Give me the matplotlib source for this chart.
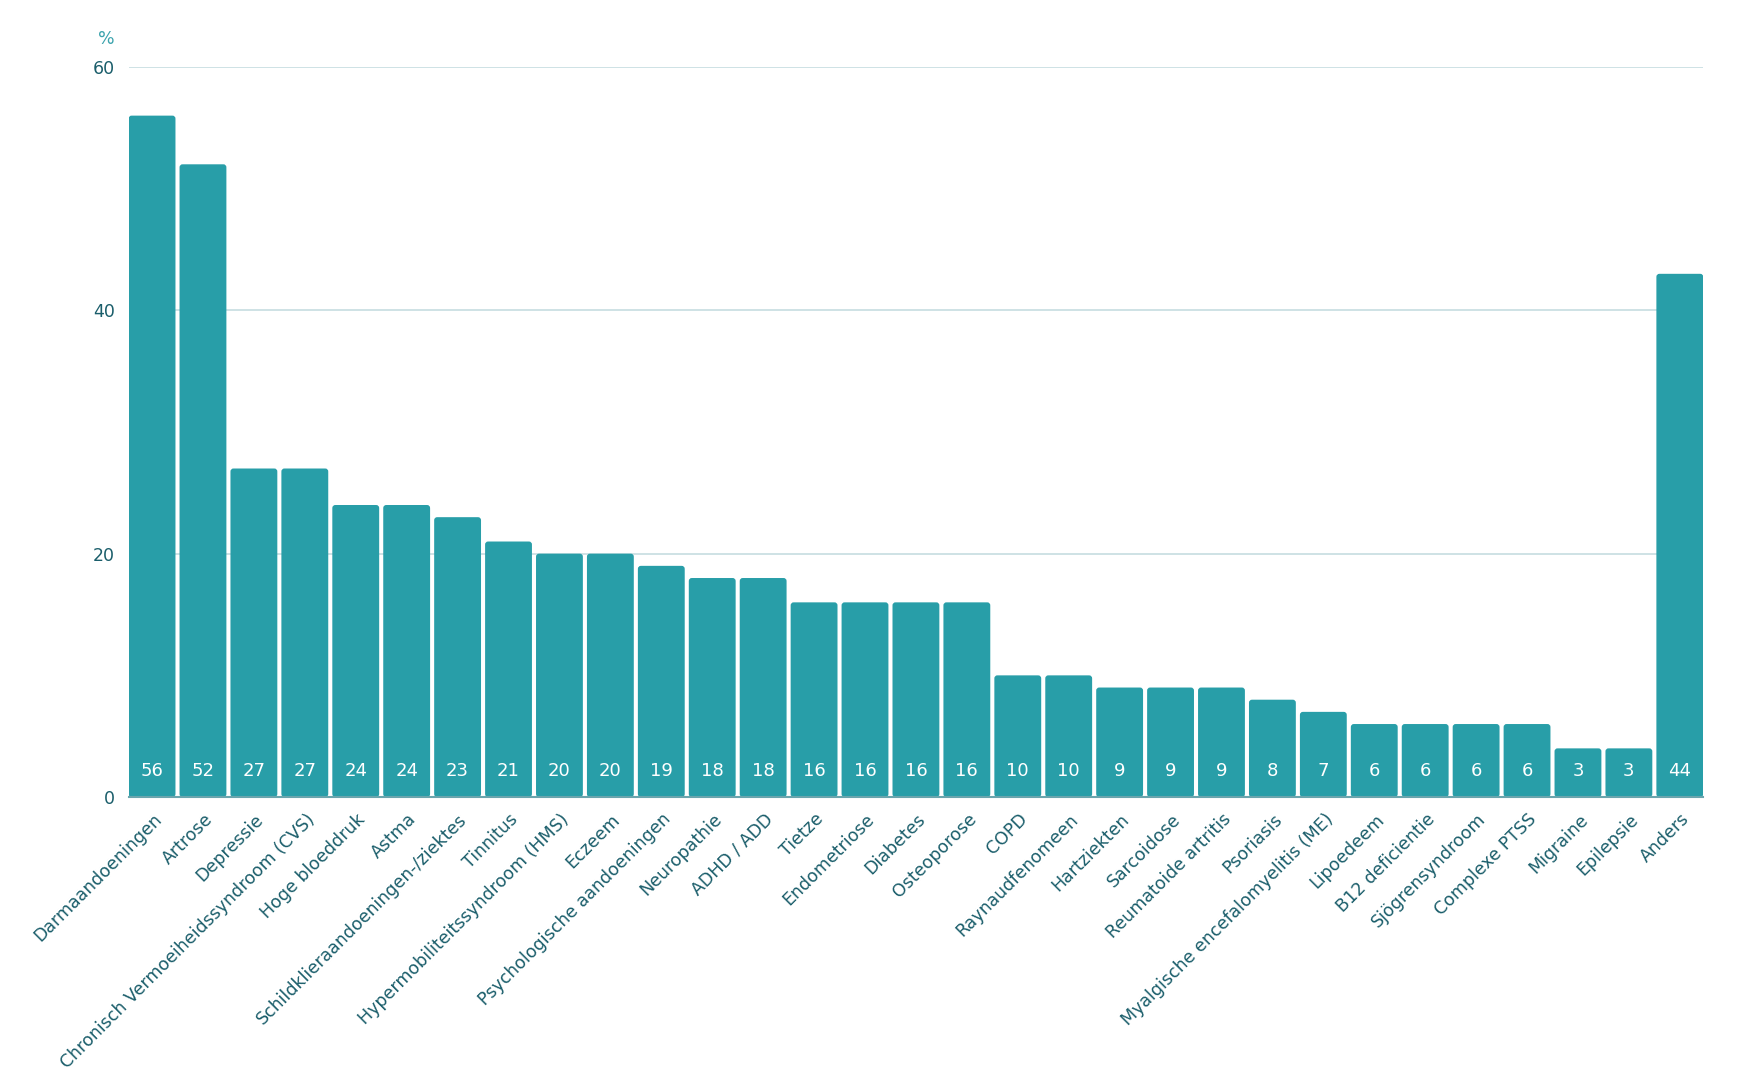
import matplotlib
matplotlib.use("Agg")
import matplotlib.pyplot as plt
import matplotlib.transforms as mtransforms
from matplotlib.patches import FancyBboxPatch

categories = [
    "Darmaandoeningen", "Artrose", "Depressie", "Chronisch Vermoeiheidssyndroom (CVS)",
    "Hoge bloeddruk", "Astma", "Schildklieraandoeningen-/ziektes", "Tinnitus",
    "Hypermobiliteitssyndroom (HMS)", "Eczeem", "Psychologische aandoeningen",
    "Neuropathie", "ADHD / ADD", "Tietze", "Endometriose", "Diabetes", "Osteoporose",
    "COPD", "Raynaudfenomeen", "Hartziekten", "Sarcoidose", "Reumatoide artritis",
    "Psoriasis", "Myalgische encefalomyelitis (ME)", "Lipoedeem", "B12 deficientie",
    "Sjögrensyndroom", "Complexe PTSS", "Migraine", "Epilepsie", "Anders",
]
bar_values = [56, 52, 27, 27, 24, 24, 23, 21, 20, 20, 19, 18, 18, 16, 16, 16, 16,
              10, 10, 9, 9, 9, 8, 7, 6, 6, 6, 6, 4, 4, 43]
value_labels = ["56", "52", "27", "27", "24", "24", "23", "21", "20", "20", "19",
                "18", "18", "16", "16", "16", "16", "10", "10", "9", "9", "9", "8",
                "7", "6", "6", "6", "6", "3", "3", "44"]
y_ticks = [0, 20, 40, 60]

BAR = "#289ea8"
TEXT = "#1b5e6b"
GRID = "#cadfe3"

plt.rcParams["font.family"] = ["DejaVu Sans"]

fig = plt.figure(figsize=(17.38, 10.8), dpi=100)
ax = fig.add_axes([0.074, 0.262, 0.906, 0.676])

width = 0.92
x = list(range(len(categories)))
bars = ax.bar(x, bar_values, width=width, color=BAR, linewidth=0, zorder=2)

ax.set_xlim(-width / 2, len(categories) - 1 + width / 2)
ax.set_ylim(0, 60)

# balken met licht afgeronde hoeken
fig_w, fig_h = fig.get_size_inches() * fig.dpi
px_x = 0.906 * fig_w / (ax.get_xlim()[1] - ax.get_xlim()[0])
px_y = 0.676 * fig_h / 60
for b in bars:
    b.set_visible(False)
    rb = FancyBboxPatch((b.get_x(), b.get_y()), b.get_width(), b.get_height(),
                        boxstyle="round,pad=0,rounding_size=%f" % (3 / px_x),
                        mutation_aspect=px_x / px_y, facecolor=BAR,
                        edgecolor="none", zorder=2)
    ax.add_patch(rb)

# waardelabels onderin de balken
for xi, lab in zip(x, value_labels):
    ax.annotate(lab, (xi, 0), xytext=(0, 19), textcoords="offset points",
                ha="center", va="center", color="white", fontsize=13, zorder=3)

ax.set_yticks(y_ticks)
ax.set_yticklabels([str(t) for t in y_ticks])
ax.yaxis.grid(True, color=GRID, linewidth=1.3, zorder=0)
ax.set_axisbelow(True)

for s in ["top", "right", "left"]:
    ax.spines[s].set_visible(False)
ax.spines["bottom"].set_color("#6aa5ad")
ax.spines["bottom"].set_linewidth(1.5)
ax.spines["bottom"].set_zorder(4)

ax.tick_params(axis="y", length=0, pad=10, labelsize=12.5, labelcolor=TEXT)
ax.tick_params(axis="x", length=0, pad=4, labelsize=12.5, labelcolor=TEXT)

ax.set_xticks(x)
ax.set_xticklabels(categories, rotation=45, ha="right", va="center",
                   rotation_mode="anchor")
offset = mtransforms.ScaledTranslation(7 / 100, -14 / 100, fig.dpi_scale_trans)
for lbl in ax.get_xticklabels():
    lbl.set_transform(lbl.get_transform() + offset)

ax.annotate("%", (0, 60), xycoords=("axes fraction", "data"), xytext=(-10, 20),
            textcoords="offset points", ha="right", va="center",
            color="#3ba3ad", fontsize=12.5)

fig.savefig("out.png", dpi=100)
